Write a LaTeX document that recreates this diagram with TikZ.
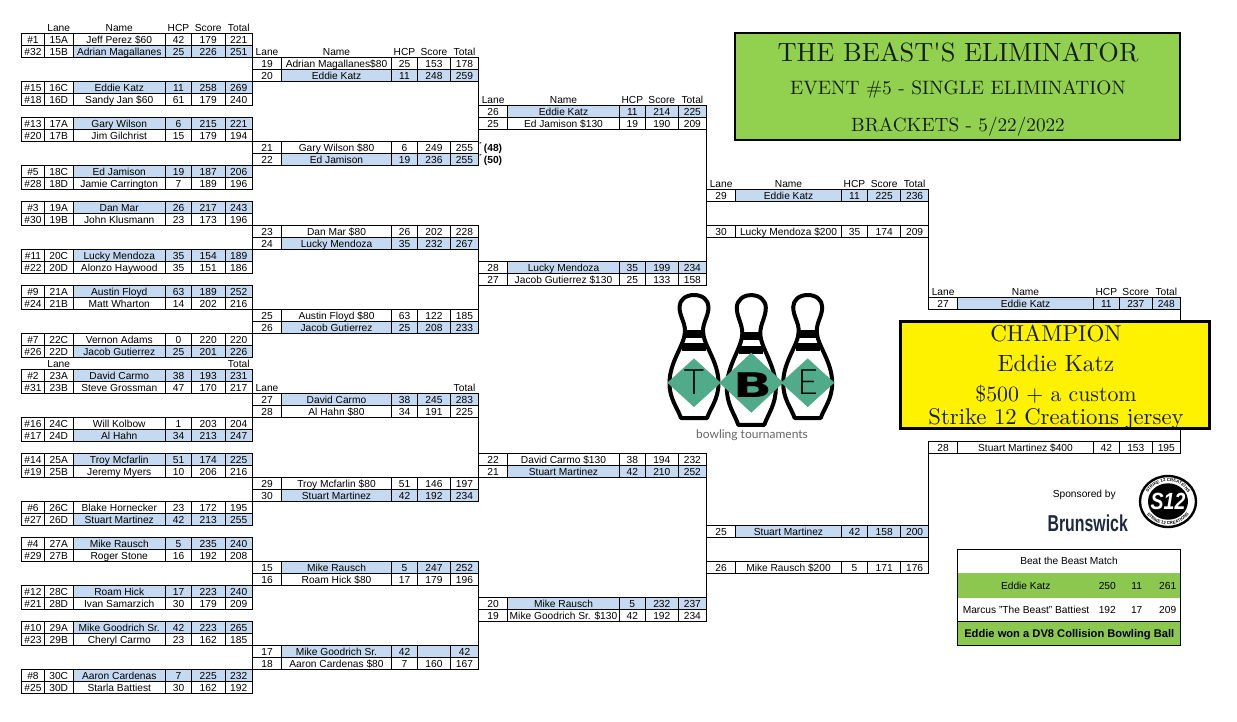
\documentclass[tikz,border=0pt]{standalone}
\usepackage{fontspec}
\usepackage{graphicx}
\setsansfont{Liberation Sans}
\renewcommand{\familydefault}{\sfdefault}
\newfontfamily\latofont{Lato}
\newfontfamily\latolight{Lato Light}
\newfontfamily\dejafont{DejaVu Sans}
\newfontfamily\serifban{lmroman10-regular.otf}
\usetikzlibrary{decorations.text}
\definecolor{cb}{HTML}{C5D9F0}
\definecolor{cw}{HTML}{FFFFFF}
\definecolor{titlegreen}{HTML}{92D050}
\definecolor{matchgreen}{HTML}{8CC850}
\definecolor{pingreen}{HTML}{4FAB8A}
\definecolor{brunsnavy}{HTML}{1B2A41}
\definecolor{softblack}{HTML}{141E10}
\tikzset{
  cellbox/.style={draw=black,rectangle,inner sep=0pt,outer sep=0pt,line width=0.9pt,minimum height=12pt,
    text height=7.3pt,text depth=0pt,font=\fontsize{10.2}{10.2}\selectfont},
  headbox/.style={cellbox,draw=none},
  bannerbox/.style={draw=black,rectangle,line width=2.5pt,inner sep=0pt,outer sep=0pt},
  bannertxt/.style={anchor=base,inner sep=0pt,text=softblack},
  link/.style={draw=black,line width=0.9pt},
  beattxt/.style={inner sep=0pt,text height=7.3pt,text depth=0pt,font=\fontsize{10.2}{10.2}\selectfont},
  pinline/.style={draw=black,line width=4pt,line join=round,fill=white},
}
\newcommand\cellnode[6]{%
  \pgfmathsetmacro\cx{(#2+#3)/2}\pgfmathsetmacro\cy{33.5+12*(#4)+6}\pgfmathsetmacro\cwd{#3-#2}%
  \node[cellbox,fill=#5,minimum width=\cwd pt] (#1) at (\cx,\cy) {#6};}
\newcommand\headnode[5]{%
  \pgfmathsetmacro\cx{(#2+#3)/2}\pgfmathsetmacro\cy{33.5+12*(#4)+6}%
  \node[headbox] (#1) at (\cx,\cy) {#5};}
\newcommand\rowA[8]{%
  \cellnode{Ar#1c1}{21.5}{44.5}{#1}{cw}{#3}%
  \cellnode{Ar#1c2}{44.5}{73}{#1}{cw}{#4}%
  \cellnode{Ar#1c3}{73}{165.5}{#1}{#2}{#5}%
  \cellnode{Ar#1c4}{165.5}{191.5}{#1}{#2}{#6}%
  \cellnode{Ar#1c5}{191.5}{225}{#1}{#2}{#7}%
  \cellnode{Ar#1c6}{225}{252.5}{#1}{#2}{#8}}
\newcommand\setcols[7]{\def\rnd{#1}\def\xa{#2}\def\xb{#3}\def\xc{#4}\def\xd{#5}\def\xe{#6}\def\xf{#7}}
\newcommand\rowG[7]{%
  \cellnode{\rnd r#1c1}{\xa}{\xb}{#1}{cw}{#3}%
  \cellnode{\rnd r#1c2}{\xb}{\xc}{#1}{#2}{#4}%
  \cellnode{\rnd r#1c3}{\xc}{\xd}{#1}{#2}{#5}%
  \cellnode{\rnd r#1c4}{\xd}{\xe}{#1}{#2}{#6}%
  \cellnode{\rnd r#1c5}{\xe}{\xf}{#1}{#2}{#7}}
\newcommand\headsG[1]{%
  \headnode{\rnd h#1c1}{\xa}{\xb}{#1}{Lane}%
  \headnode{\rnd h#1c2}{\xb}{\xc}{#1}{Name}%
  \headnode{\rnd h#1c3}{\xc}{\xd}{#1}{HCP}%
  \headnode{\rnd h#1c4}{\xd}{\xe}{#1}{Score}%
  \headnode{\rnd h#1c5}{\xe}{\xf}{#1}{Total}}
\newcommand\pinshape[3]{%
  \begin{scope}[shift={(#1,#2)},yscale=#3]
    \draw[pinline] (0,2) .. controls (8.5,2) and (14.5,7) .. (14.5,14)
      .. controls (14.5,23) and (9,29) .. (9,38)
      .. controls (9,52) and (24.5,68) .. (24.5,90)
      .. controls (24.5,106) and (17,114) .. (13,125)
      -- (-13,125) .. controls (-17,114) and (-24.5,106) .. (-24.5,90)
      .. controls (-24.5,68) and (-9,52) .. (-9,38)
      .. controls (-9,29) and (-14.5,23) .. (-14.5,14)
      .. controls (-14.5,7) and (-8.5,2) .. (0,2) -- cycle;
    \fill[black] (-9,37) rectangle (9,45);
    \fill[black] (-12,50) rectangle (12,58);
  \end{scope}}
\begin{document}
\begin{tikzpicture}[x=1pt,y=-1pt]
\useasboundingbox (0,0) rectangle (1237,721);
\fill[white] (0,0) rectangle (1237,721);

% Round 1
\headnode{Ah1}{44.5}{73}{-1}{Lane}\headnode{Ah2}{73}{165.5}{-1}{Name}\headnode{Ah3}{165.5}{191.5}{-1}{HCP}\headnode{Ah4}{191.5}{225}{-1}{Score}\headnode{Ah5}{225}{252.5}{-1}{Total}
\headnode{Ak1}{44.5}{73}{27}{Lane}\headnode{Ak5}{225}{252.5}{27}{Total}
\rowA{0}{cw}{\#1}{15A}{Jeff Perez \$60}{42}{179}{221}
\rowA{1}{cb}{\#32}{15B}{Adrian Magallanes}{25}{226}{251}
\rowA{4}{cb}{\#15}{16C}{Eddie Katz}{11}{258}{269}
\rowA{5}{cw}{\#18}{16D}{Sandy Jan \$60}{61}{179}{240}
\rowA{7}{cb}{\#13}{17A}{Gary Wilson}{6}{215}{221}
\rowA{8}{cw}{\#20}{17B}{Jim Gilchrist}{15}{179}{194}
\rowA{11}{cb}{\#5}{18C}{Ed Jamison}{19}{187}{206}
\rowA{12}{cw}{\#28}{18D}{Jamie Carrington}{7}{189}{196}
\rowA{14}{cb}{\#3}{19A}{Dan Mar}{26}{217}{243}
\rowA{15}{cw}{\#30}{19B}{John Klusmann}{23}{173}{196}
\rowA{18}{cb}{\#11}{20C}{Lucky Mendoza}{35}{154}{189}
\rowA{19}{cw}{\#22}{20D}{Alonzo Haywood}{35}{151}{186}
\rowA{21}{cb}{\#9}{21A}{Austin Floyd}{63}{189}{252}
\rowA{22}{cw}{\#24}{21B}{Matt Wharton}{14}{202}{216}
\rowA{25}{cw}{\#7}{22C}{Vernon Adams}{0}{220}{220}
\rowA{26}{cb}{\#26}{22D}{Jacob Gutierrez}{25}{201}{226}
\rowA{28}{cb}{\#2}{23A}{David Carmo}{38}{193}{231}
\rowA{29}{cw}{\#31}{23B}{Steve Grossman}{47}{170}{217}
\rowA{32}{cw}{\#16}{24C}{Will Kolbow}{1}{203}{204}
\rowA{33}{cb}{\#17}{24D}{Al Hahn}{34}{213}{247}
\rowA{35}{cb}{\#14}{25A}{Troy Mcfarlin}{51}{174}{225}
\rowA{36}{cw}{\#19}{25B}{Jeremy Myers}{10}{206}{216}
\rowA{39}{cw}{\#6}{26C}{Blake Hornecker}{23}{172}{195}
\rowA{40}{cb}{\#27}{26D}{Stuart Martinez}{42}{213}{255}
\rowA{42}{cb}{\#4}{27A}{Mike Rausch}{5}{235}{240}
\rowA{43}{cw}{\#29}{27B}{Roger Stone}{16}{192}{208}
\rowA{46}{cb}{\#12}{28C}{Roam Hick}{17}{223}{240}
\rowA{47}{cw}{\#21}{28D}{Ivan Samarzich}{30}{179}{209}
\rowA{49}{cb}{\#10}{29A}{Mike Goodrich Sr.}{42}{223}{265}
\rowA{50}{cw}{\#23}{29B}{Cheryl Carmo}{23}{162}{185}
\rowA{53}{cb}{\#8}{30C}{Aaron Cardenas}{7}{225}{232}
\rowA{54}{cw}{\#25}{30D}{Starla Battiest}{30}{162}{192}

% Round 2
\setcols{B}{252.5}{281.5}{391.5}{417.5}{450.5}{478.5}
\headsG{1}
\headnode{Bk1}{\xa}{\xb}{29}{Lane}\headnode{Bk5}{\xe}{\xf}{29}{Total}
\rowG{2}{cw}{19}{Adrian Magallanes\$80}{25}{153}{178}
\rowG{3}{cb}{20}{Eddie Katz}{11}{248}{259}
\rowG{9}{cw}{21}{Gary Wilson \$80}{6}{249}{255}
\rowG{10}{cb}{22}{Ed Jamison}{19}{236}{255}
\rowG{16}{cw}{23}{Dan Mar \$80}{26}{202}{228}
\rowG{17}{cb}{24}{Lucky Mendoza}{35}{232}{267}
\rowG{23}{cw}{25}{Austin Floyd \$80}{63}{122}{185}
\rowG{24}{cb}{26}{Jacob Gutierrez}{25}{208}{233}
\rowG{30}{cb}{27}{David Carmo}{38}{245}{283}
\rowG{31}{cw}{28}{Al Hahn \$80}{34}{191}{225}
\rowG{37}{cw}{29}{Troy Mcfarlin \$80}{51}{146}{197}
\rowG{38}{cb}{30}{Stuart Martinez}{42}{192}{234}
\rowG{44}{cb}{15}{Mike Rausch}{5}{247}{252}
\rowG{45}{cw}{16}{Roam Hick \$80}{17}{179}{196}
\rowG{51}{cb}{17}{Mike Goodrich Sr.}{42}{}{42}
\rowG{52}{cw}{18}{Aaron Cardenas \$80}{7}{160}{167}

% Round 3
\setcols{C}{478.5}{507.7}{619.3}{645.3}{678.3}{706.5}
\headsG{5}
\rowG{6}{cb}{26}{Eddie Katz}{11}{214}{225}
\rowG{7}{cw}{25}{Ed Jamison \$130}{19}{190}{209}
\rowG{19}{cb}{28}{Lucky Mendoza}{35}{199}{234}
\rowG{20}{cw}{27}{Jacob Gutierrez \$130}{25}{133}{158}
\rowG{35}{cw}{22}{David Carmo \$130}{38}{194}{232}
\rowG{36}{cb}{21}{Stuart Martinez}{42}{210}{252}
\rowG{47}{cb}{20}{Mike Rausch}{5}{232}{237}
\rowG{48}{cw}{19}{Mike Goodrich Sr. \$130}{42}{192}{234}

% Round 4
\setcols{D}{706.5}{735.7}{841.3}{867.7}{900.7}{928.5}
\headsG{12}
\rowG{13}{cb}{29}{Eddie Katz}{11}{225}{236}
\rowG{16}{cw}{30}{Lucky Mendoza \$200}{35}{174}{209}
\rowG{41}{cb}{25}{Stuart Martinez}{42}{158}{200}
\rowG{44}{cw}{26}{Mike Rausch \$200}{5}{171}{176}

% Round 5
\setcols{E}{928.5}{957.7}{1093.3}{1119.3}{1152.3}{1180.3}
\headsG{21}
\rowG{22}{cb}{27}{Eddie Katz}{11}{237}{248}
\rowG{34}{cw}{28}{Stuart Martinez \$400}{42}{153}{195}

% Connectors
\draw[link] (Ar1c6.south east) -- (Ar4c6.north east);
\draw[link] (Ar8c6.south east) -- (Ar11c6.north east);
\draw[link] (Ar15c6.south east) -- (Ar18c6.north east);
\draw[link] (Ar22c6.south east) -- (Ar25c6.north east);
\draw[link] (Ar29c6.south east) -- (Ar32c6.north east);
\draw[link] (Ar36c6.south east) -- (Ar39c6.north east);
\draw[link] (Ar43c6.south east) -- (Ar46c6.north east);
\draw[link] (Ar50c6.south east) -- (Ar53c6.north east);
\draw[link] (Br3c5.south east) -- (Br9c5.north east);
\draw[link] (Br17c5.south east) -- (Br23c5.north east);
\draw[link] (Br31c5.south east) -- (Br37c5.north east);
\draw[link] (Br45c5.south east) -- (Br51c5.north east);
\draw[link] (Cr7c5.south east) -- (Cr19c5.north east);
\draw[link] (Cr36c5.south east) -- (Cr47c5.north east);
\draw[link] (Dr13c5.south east) -- (Dr16c5.north east);
\draw[link] (Dr41c5.south east) -- (Dr44c5.north east);
\draw[link] (Dr16c5.south east) -- (Er22c1.north west);
\draw[link] (Er34c1.south west) -- (Dr41c5.north east);
\draw[link] (Er22c5.south east) -- (Er34c5.north east);

% Tie-break marks
\node[inner sep=0pt,anchor=base,font=\bfseries\fontsize{10.2}{10.2}\selectfont] (tie48) at (493,151) {(48)};
\node[inner sep=0pt,anchor=base,font=\bfseries\fontsize{10.2}{10.2}\selectfont] (tie50) at (493,163) {(50)};
\fill[black!70] (479.6,142.2) -- (481.6,142.2) -- (479.6,144.2) -- cycle;
\fill[black!70] (479.6,154.2) -- (481.6,154.2) -- (479.6,156.2) -- cycle;

% Title banner
\node[bannerbox,fill=titlegreen,minimum width=445pt,minimum height=107pt] (title) at (957.7,86.7) {};
\node[bannertxt,font=\serifban\fontsize{26.4}{27}\selectfont] (t1) at (958,61) {THE BEAST'S ELIMINATOR};
\node[bannertxt,font=\serifban\fontsize{19.4}{20}\selectfont] (t2) at (958,94.3) {EVENT \#5 - SINGLE ELIMINATION};
\node[bannertxt,font=\serifban\fontsize{19.2}{20}\selectfont] (t3) at (958,131) {BRACKETS - 5/22/2022};

% Champion banner
\node[bannerbox,fill=yellow,minimum width=309pt,minimum height=107pt] (champ) at (1055,375) {};
\node[bannertxt,font=\serifban\fontsize{23}{23}\selectfont] (c1) at (1056,341) {CHAMPION};
\node[bannertxt,font=\serifban\fontsize{23.5}{24}\selectfont] (c2) at (1056,371) {Eddie Katz};
\node[bannertxt,font=\serifban\fontsize{21.8}{22}\selectfont] (c3) at (1056,401) {\$500 + a custom};
\node[bannertxt,font=\serifban\fontsize{22.7}{23}\selectfont] (c4) at (1056,424.3) {Strike 12 Creations jersey};

% TBE logo
\pinshape{694}{293}{1}
\pinshape{807.7}{293}{1}
\pinshape{751.3}{293}{1.055}
\fill[pingreen] (667.3,382.7) -- (694,358.4) -- (720.7,382.7) -- (694,407) -- cycle;
\fill[pingreen] (781,382.7) -- (807.7,358.4) -- (834.4,382.7) -- (807.7,407) -- cycle;
\fill[pingreen] (719.3,382.7) -- (751.3,352.7) -- (783.3,382.7) -- (751.3,412.7) -- cycle;
\node[inner sep=0pt,font=\latolight\fontsize{35}{35}\selectfont] (logoT) at (694,382) {T};
\node[inner sep=0pt,font=\dejafont\bfseries\fontsize{34}{34}\selectfont] (logoB) at (753,385.5) {\scalebox{1.5}[1]{B}};
\node[inner sep=0pt,font=\latolight\fontsize{35}{35}\selectfont] (logoE) at (807.7,382) {E};
\node[inner sep=0pt,text=black!60,font=\latofont\fontsize{12}{12}\selectfont] (logotxt) at (752,435.3) {bowling tournaments};

% Sponsors
\node[inner sep=0pt,font=\fontsize{10.2}{10.2}\selectfont] (sponsor) at (1084.3,495.3) {Sponsored by};
\node[inner sep=0pt,text=brunsnavy,font=\bfseries\fontsize{23}{23}\selectfont] (brunswick) at (1087.7,523) {\scalebox{0.69}[1]{Brunswick}};
\begin{scope}[shift={(1168,501.5)},x=1pt,y=0.91pt]
  \fill[white,draw=black,line width=2.4pt] (0,0) circle[radius=28];
  \fill[black] (0,0) circle[radius=20];
  \path[postaction={decorate},decoration={text along path,text align=center,
     text={|\bfseries\fontsize{4.3}{4.3}\selectfont|STRIKE 12 CREATIONS}}]
     (165:22) arc[start angle=165,end angle=15,radius=22];
  \path[postaction={decorate},decoration={text along path,text align=center,
     text={|\bfseries\fontsize{4.3}{4.3}\selectfont|STRIKE 12 CREATIONS}}]
     (195:25.5) arc[start angle=195,end angle=345,radius=25.5];
  \node[inner sep=0pt,text=white,font=\bfseries\itshape\fontsize{19.5}{19.5}\selectfont] (s12) at (0,0) {\scalebox{1}[1.2]{S12}};
\end{scope}

% Beat the Beast table
\node[inner sep=0pt,outer sep=0pt,minimum width=223pt,minimum height=24pt,fill=white] (bb0) at (1068.8,561) {};
\node[inner sep=0pt,outer sep=0pt,minimum width=223pt,minimum height=24.5pt,fill=matchgreen] (bb1) at (1068.8,585.5) {};
\node[inner sep=0pt,outer sep=0pt,minimum width=223pt,minimum height=24pt,fill=white] (bb2) at (1068.8,609.8) {};
\node[inner sep=0pt,outer sep=0pt,minimum width=223pt,minimum height=24pt,fill=matchgreen,draw=black,line width=0.9pt] (bb3) at (1068.8,633.5) {};
\draw[black,line width=0.9pt] (bb0.north west) rectangle (bb3.south east);
\node[beattxt] (bbtitle) at (1069,561) {Beat the Beast Match};
\node[beattxt] (bbn1) at (1025.7,585.6) {Eddie Katz};
\node[beattxt] (bbs1) at (1107.3,585.6) {250};
\node[beattxt] (bbh1) at (1136.7,585.6) {11};
\node[beattxt] (bbt1) at (1167.7,585.6) {261};
\node[beattxt] (bbn2) at (1026,609.5) {Marcus "The Beast" Battiest};
\node[beattxt] (bbs2) at (1107.3,609.5) {192};
\node[beattxt] (bbh2) at (1136.7,609.5) {17};
\node[beattxt] (bbt2) at (1167.7,609.5) {209};
\node[beattxt,font=\bfseries\fontsize{11.15}{11.2}\selectfont] (bbwon) at (1069.3,633.5) {Eddie won a DV8 Collision Bowling Ball};
\end{tikzpicture}
\end{document}
